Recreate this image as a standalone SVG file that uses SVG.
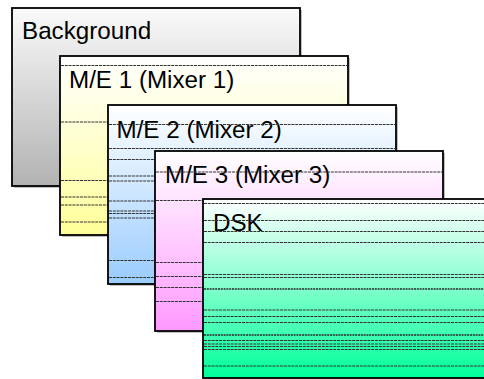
<svg xmlns="http://www.w3.org/2000/svg" width="484" height="379" viewBox="0 0 484 379">
  <style>
    .frame { stroke: #000; stroke-width: 1.8; }
    .shadow { fill: #8a8a8a; opacity: 0.55; }
    .label { font-family: "Liberation Sans", Arial, sans-serif; font-size: 24.2px; fill: #000; }
    .scan { fill: none; stroke: #333; stroke-width: 1; stroke-dasharray: 3 0.8; }
    .scan-thick { fill: none; stroke: #2a2a2a; stroke-width: 1.7; stroke-dasharray: 2 0.8; }
  </style>
  <defs>
    <linearGradient id="gGrey" x1="0" y1="0" x2="0" y2="1">
      <stop offset="0" stop-color="#fafafa"/>
      <stop offset="1" stop-color="#b2b2b2"/>
    </linearGradient>
    <linearGradient id="gYellow" x1="0" y1="0" x2="0" y2="1">
      <stop offset="0" stop-color="#ffffff"/>
      <stop offset="1" stop-color="#ffff99"/>
    </linearGradient>
    <linearGradient id="gBlue" x1="0" y1="0" x2="0" y2="1">
      <stop offset="0" stop-color="#ffffff"/>
      <stop offset="1" stop-color="#99ccff"/>
    </linearGradient>
    <linearGradient id="gPink" x1="0" y1="0" x2="0" y2="1">
      <stop offset="0" stop-color="#ffffff"/>
      <stop offset="1" stop-color="#ff99ff"/>
    </linearGradient>
    <linearGradient id="gGreen" x1="0" y1="0" x2="0" y2="1">
      <stop offset="0" stop-color="#ffffff"/>
      <stop offset="1" stop-color="#00ff99"/>
    </linearGradient>
  </defs>

  <g id="background">
    <rect class="shadow" x="14" y="10" width="288" height="178"/>
    <rect class="frame" x="12" y="8" width="288" height="178" fill="url(#gGrey)"/>
    <text class="label" x="22" y="39">Background</text>
  </g>

  <g id="me1">
    <rect class="shadow" x="62" y="58" width="288" height="179"/>
    <rect class="frame" x="60" y="56" width="288" height="179" fill="url(#gYellow)"/>
    <text class="label" x="69" y="88">M/E 1 (Mixer 1)</text>
    <path class="scan" d="M61 65.5H347M61 122H347M61 180.5H347M61 197H347M61 205H347M61 222H347"/>
  </g>

  <g id="me2">
    <rect class="shadow" x="110" y="107" width="288" height="179"/>
    <rect class="frame" x="108" y="105" width="288" height="179" fill="url(#gBlue)"/>
    <text class="label" x="116.5" y="137.5">M/E 2 (Mixer 2)</text>
    <path class="scan" d="M109 124.5H395M109 148.5H395M109 159.5H395M109 176H395M109 181H395M109 201H395M109 211H395M109 213.5H395M109 218H395M109 260.5H395M109 277.5H395"/>
  </g>

  <g id="me3">
    <rect class="shadow" x="157" y="153" width="288" height="180"/>
    <rect class="frame" x="155" y="151" width="288" height="180" fill="url(#gPink)"/>
    <text class="label" x="165" y="182.5">M/E 3 (Mixer 3)</text>
    <path class="scan" d="M156 172H442M156 200.5H442M156 262.5H442M156 276.5H442M156 287.5H442M156 301.5H442"/>
  </g>

  <g id="dsk">
    <rect class="shadow" x="205" y="201" width="288" height="179"/>
    <rect class="frame" x="203" y="199" width="288" height="179" fill="url(#gGreen)"/>
    <text class="label" x="213" y="230.5">DSK</text>
    <path class="scan" d="M204 203.5H490M204 220.5H490M204 231.5H490M204 242.5H490M204 274.5H490M204 277.5H490M204 310H490M204 316.5H490M204 322.5H490M204 340.5H490M204 344H490M204 346.5H490M204 349.5H490M204 366H490"/>
    <path class="scan-thick" d="M204 289H490M204 335H490"/>
  </g>

  <g id="connectors"/>
</svg>
